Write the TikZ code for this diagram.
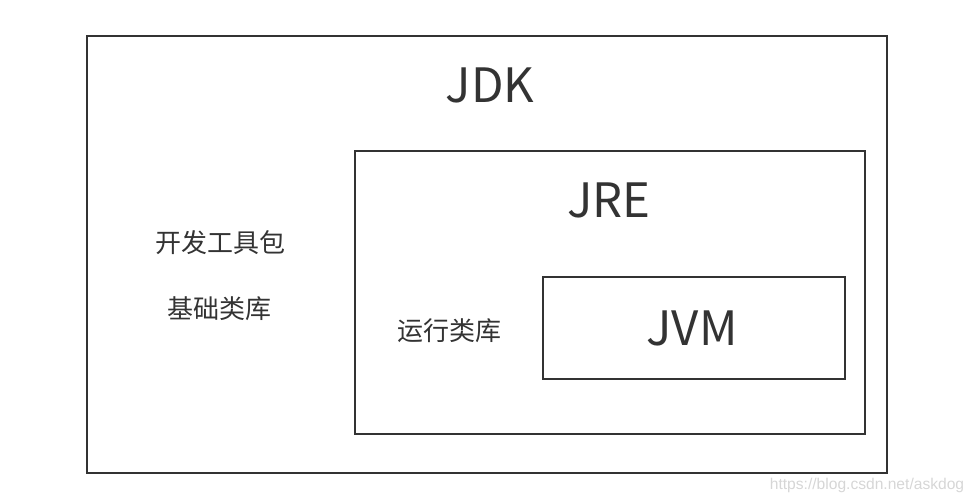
\documentclass[tikz,border=0pt]{standalone}
\usepackage{fontspec}
\setmainfont{Noto Sans CJK SC}
\newfontfamily\markfont{Liberation Sans}
\usepackage{xcolor}
\definecolor{Box_Line}{HTML}{333333}
\definecolor{Box_Text}{HTML}{333333}
\definecolor{Mark_Gray}{HTML}{D6D6D6}

\begin{document}
\begin{tikzpicture}[
    x=0.75pt, y=-0.75pt,
    box/.style={draw=Box_Line, line width=1.5pt, inner sep=0pt, anchor=center},
    title/.style={text=Box_Text, font=\fontsize{35.5}{40}\selectfont, inner sep=0pt, anchor=center},
    lib/.style={text=Box_Text, font=\fontsize{19.5}{22}\selectfont, inner sep=0pt, anchor=center}
]
\useasboundingbox (0, 0) rectangle (974, 503);
\node[box, minimum width=600pt, minimum height=327pt] (jdk) at (487, 254.5) {};
\node[box, minimum width=382.5pt, minimum height=212.25pt] (jre) at (610, 292.5) {};
\node[box, minimum width=226.5pt, minimum height=76.5pt] (jvm) at (694, 327.5) {};
\node[title] (jdktext) at (490, 85) {JDK};
\node[title] (jretext) at (609, 200) {JRE};
\node[title] (jvmtext) at (692, 328) {JVM};
\node[lib] (tools) at (220, 243) {开发工具包};
\node[lib] (baselib) at (219, 309) {基础类库};
\node[lib] (runlib) at (449, 331) {运行类库};
\node[text=Mark_Gray, font=\markfont\fontsize{11.7}{13}\selectfont, inner sep=0pt] (mark) at (867, 485) {https://blog.csdn.net/askdog};
\end{tikzpicture}
\end{document}
